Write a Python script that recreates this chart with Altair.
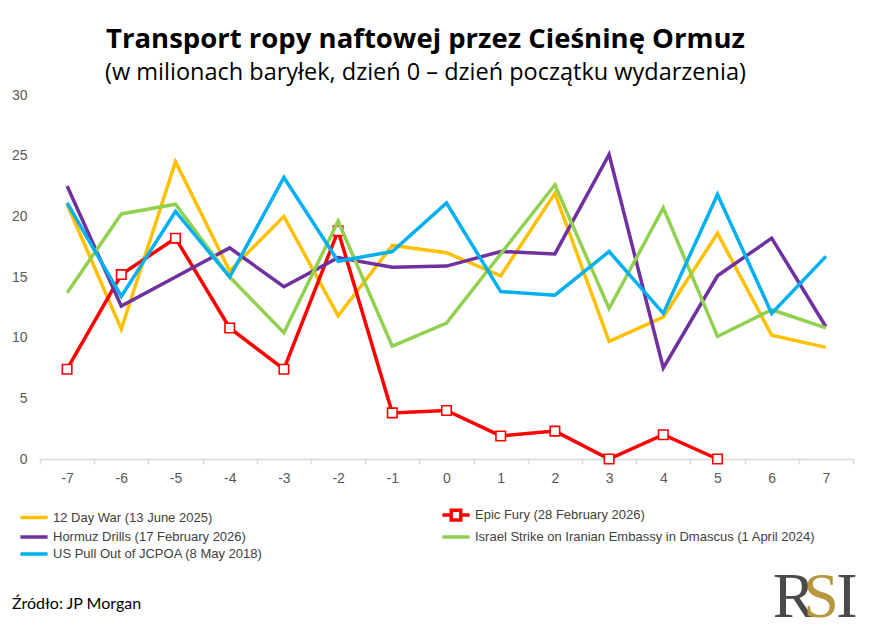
import altair as alt
import pandas as pd

days = [-7, -6, -5, -4, -3, -2, -1, 0, 1, 2, 3, 4, 5, 6, 7]

series_names = [
    "12 Day War (13 June 2025)",
    "Epic Fury (28 February 2026)",
    "Hormuz Drills (17 February 2026)",
    "Israel Strike on Iranian Embassy in Dmascus (1 April 2024)",
    "US Pull Out of JCPOA (8 May 2018)",
]
series_colors = ["#FFC000", "#FF0000", "#7030A0", "#92D050", "#00B0F0"]

war12 = [21.0, 10.7, 24.5, 15.5, 20.0, 11.8, 17.6, 17.0, 15.1, 21.9, 9.7, 11.7, 18.6, 10.2, 9.2]
epic = [7.4, 15.2, 18.2, 10.8, 7.4, 18.8, 3.8, 4.0, 1.9, 2.3, 0.0, 2.0, 0.0, None, None]
hormuz = [22.5, 12.6, 15.0, 17.4, 14.2, 16.6, 15.8, 15.9, 17.1, 16.9, 25.1, 7.5, 15.1, 18.2, 10.9]
israel = [13.7, 20.2, 21.0, 15.0, 10.4, 19.6, 9.3, 11.2, 16.9, 22.6, 12.4, 20.7, 10.1, 12.3, 10.8]
us = [21.1, 13.4, 20.4, 15.0, 23.2, 16.3, 17.1, 21.1, 13.8, 13.5, 17.1, 12.0, 21.8, 12.0, 16.7]

y_ticks = [0, 5, 10, 15, 20, 25, 30]

title_text = "Transport ropy naftowej przez Cieśninę Ormuz"
subtitle_text = "(w milionach baryłek, dzień 0 – dzień początku wydarzenia)"
source_text = "Źródło: JP Morgan"

rows = []
for name, vals in zip(series_names, [war12, epic, hormuz, israel, us]):
    for d, v in zip(days, vals):
        rows.append({"day": d, "value": v, "series": name})
df = pd.DataFrame(rows)
df_valid = df.dropna(subset=["value"])

NARROW = "Liberation Sans Narrow, Arial Narrow, Liberation Sans, sans-serif"
LINE_PATH = "M-1.7,0H1.7"
EPIC_PATH = "M-1.7,0H-0.6M0.6,0H1.7M-0.6,-0.6H0.6V0.6H-0.6Z"
shape_range = [EPIC_PATH if n.startswith("Epic") else LINE_PATH for n in series_names]

legend = alt.Legend(
    title=None,
    orient="none",
    legendX=-16,
    legendY=410,
    direction="horizontal",
    columns=2,
    columnPadding=172,
    rowPadding=0,
    padding=0,
    symbolSize=256,
    symbolStrokeWidth=3.5,
    symbolFillColor="white",
    symbolOpacity=1,
    labelFont=NARROW,
    labelFontSize=13,
    labelColor="#404040",
    labelOffset=9,
    labelLimit=500,
)

x_enc = alt.X(
    "day:O",
    sort=days,
    bandPosition=0.5,
    scale=alt.Scale(type="band", paddingInner=0, paddingOuter=0),
    axis=alt.Axis(
        title=None,
        labelAngle=0,
        tickBand="extent",
        domainColor="#d9d9d9",
        domainWidth=1.5,
        tickColor="#d9d9d9",
        tickWidth=1.5,
        tickSize=5,
        labelColor="#595959",
        labelFont=NARROW,
        labelFontSize=14,
        labelPadding=7,
        grid=False,
    ),
)
y_enc = alt.Y(
    "value:Q",
    scale=alt.Scale(domain=[0, 30], nice=False),
    axis=alt.Axis(
        title=None,
        values=y_ticks,
        domain=False,
        ticks=False,
        grid=False,
        labelPadding=13,
        labelColor="#595959",
        labelFont=NARROW,
        labelFontSize=14,
    ),
)
color_enc = alt.Color(
    "series:N",
    scale=alt.Scale(domain=series_names, range=series_colors),
    legend=legend,
)
shape_enc = alt.Shape(
    "series:N",
    scale=alt.Scale(domain=series_names, range=shape_range),
    legend=legend,
)

base = alt.Chart(df_valid)

lines_a = base.mark_line(strokeWidth=3.5).encode(x=x_enc, y=y_enc, color=color_enc).transform_filter(
    alt.FieldOneOfPredicate(field="series", oneOf=series_names[:2])
)
squares = base.mark_point(
    shape="square", size=90, filled=True, fill="white", stroke="#FF0000", strokeWidth=1.6, opacity=1
).encode(x=x_enc, y=y_enc).transform_filter(alt.datum.series == series_names[1])
lines_b = base.mark_line(strokeWidth=3.5).encode(x=x_enc, y=y_enc, color=color_enc).transform_filter(
    alt.FieldOneOfPredicate(field="series", oneOf=series_names[2:])
)
legend_layer = base.mark_point(filled=False, strokeWidth=3.5).encode(
    x=x_enc, y=y_enc, color=color_enc, shape=shape_enc
).transform_filter("false")

one = pd.DataFrame({"k": [0]})
source = alt.Chart(one).mark_text(
    text=source_text, font="Lato", fontSize=16, color="#000000", align="left", baseline="middle"
).encode(x=alt.value(-28), y=alt.value(509))

logo_letters = ["R", "S", "I"]
logo_colors = ["#4a4a4a", "#b8963e", "#4a4a4a"]
logo_x = [754, 781, 807]
logo_layers = [
    alt.Chart(one).mark_text(
        text=t, font="Liberation Serif", fontSize=64, color=c, align="center", baseline="alphabetic"
    ).encode(x=alt.value(xx), y=alt.value(522))
    for t, c, xx in zip(logo_letters, logo_colors, logo_x)
]

chart = alt.layer(
    lines_a, squares, lines_b, legend_layer, source, *logo_layers
).properties(
    width=813,
    height=364,
    padding={"left": 32, "top": 87, "right": 20, "bottom": 172},
    autosize=alt.AutoSizeParams(type="none"),
    title=alt.TitleParams(
        text=title_text,
        subtitle=subtitle_text,
        anchor="middle",
        dx=-21,
        offset=4,
        font="Open Sans",
        fontSize=27.5,
        fontWeight="bold",
        color="#000000",
        subtitleFont="Open Sans",
        subtitleFontSize=23.5,
        subtitleColor="#000000",
        subtitlePadding=7,
    ),
).configure_view(stroke=None)

chart.save("out.html", embed_options={"renderer": "svg", "actions": False})
